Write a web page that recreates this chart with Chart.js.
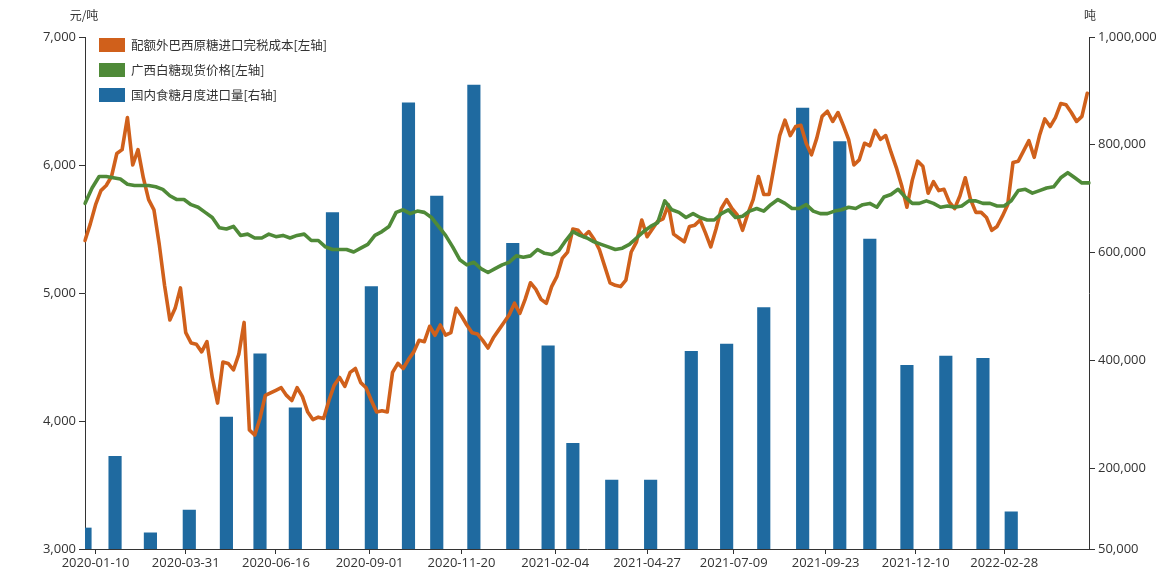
<!DOCTYPE html>
<html>
<head>
<meta charset="utf-8">
<script src="https://cdn.jsdelivr.net/npm/chart.js@4.4.0/dist/chart.umd.min.js"></script>
<style>
html,body{margin:0;padding:0;background:#fff;}
#wrap{position:relative;width:1174px;height:580px;overflow:hidden;}
canvas{display:block;}
.unit{position:absolute;font-size:12px;font-family:"Noto Sans CJK SC","Noto Sans",sans-serif;color:#333;white-space:nowrap;transform:translateX(-50%);line-height:16px;}
#legend{position:absolute;font-size:12.5px;font-family:"Noto Sans CJK SC","Noto Sans",sans-serif;color:#333;}
.li{display:flex;align-items:center;height:25px;white-space:nowrap;}
.sw{width:26px;height:14px;margin-right:6px;flex:none;}
</style>
</head>
<body>
<div id="wrap">
  <canvas id="c" width="1174" height="580" style="width:1174px;height:580px"></canvas>
  <div id="legend"></div>
  <div class="unit" id="uL"></div>
  <div class="unit" id="uR"></div>
</div>
<script>
// ---------- DATA ----------
const seriesNames = ['配额外巴西原糖进口完税成本[左轴]', '广西白糖现货价格[左轴]', '国内食糖月度进口量[右轴]'];
const leftUnit = '元/吨';
const rightUnit = '吨';

// trading calendar (weekdays minus exchange holidays)
const startDate = '2020-01-02';
const endDate = '2022-05-12';
const holidays = [
  '2020-01-24','2020-01-27','2020-01-28','2020-01-29','2020-01-30','2020-01-31',
  '2020-04-06','2020-05-01','2020-05-04','2020-05-05','2020-06-25','2020-06-26',
  '2020-10-01','2020-10-02','2020-10-05','2020-10-06','2020-10-07','2020-10-08',
  '2021-01-01','2021-02-11','2021-02-12','2021-02-15','2021-02-16','2021-02-17',
  '2021-04-05','2021-05-03','2021-05-04','2021-05-05','2021-06-14','2021-09-20','2021-09-21',
  '2021-10-01','2021-10-04','2021-10-05','2021-10-06','2021-10-07',
  '2022-01-03','2022-01-31','2022-02-01','2022-02-02','2022-02-03','2022-02-04',
  '2022-04-04','2022-04-05','2022-05-02','2022-05-03','2022-05-04'
];

const tickLabels = ['2020-01-10','2020-03-31','2020-06-16','2020-09-01','2020-11-20','2021-02-04',
  '2021-04-27','2021-07-09','2021-09-23','2021-12-10','2022-02-28'];
const leftTicks = [3000, 4000, 5000, 6000, 7000];
const rightTicks = [50000, 200000, 400000, 600000, 800000, 1000000];

// import-cost line: one reading every 3rd trading day
const costStep = 3;
const costValues = [
  5410,5540,5690,5800,5840,5910,6090,6120,6370,6000,
  6120,5900,5730,5650,5380,5060,4790,4880,5040,4690,
  4610,4600,4540,4620,4340,4140,4460,4450,4400,4520,
  4770,3930,3890,4020,4200,4220,4240,
  4260,4200,4160,4260,
  4190,4070,4010,4030,4020,4160,4280,4340,4270,4380,
  4410,4300,4260,4160,4070,4080,4070,4380,4450,4410,
  4480,4540,4630,4620,4740,4670,4750,4670,4690,4880,
  4820,4750,4690,4680,4630,4570,4650,4710,4770,4830,
  4920,4840,4950,5080,5030,4950,4920,5050,5130,5270,
  5320,5500,5490,5440,5480,5420,5340,5210,5080,5060,
  5050,5100,5320,5400,5570,5440,5500,
  5560,5580,5690,5460,
  5430,5400,5520,5530,5570,5470,5360,5500,5660,5730,
  5660,5610,5490,5620,5730,5910,5770,5770,6000,6230,
  6350,6230,6300,6310,6170,6080,6210,6380,6420,6340,
  6410,6310,6200,6000,6040,6170,6150,6270,6200,6230,
  6100,5980,5840,5670,5880,6030,5990,5780,5870,5800,
  5810,5710,5660,5760,5900,5730,5630,5630,5590,5490,
  5520,5600,5690,6020,6030,6110,
  6190,6060,6230,6360,6300,6370,6480,6470,6410,6340,6380,6560
];

// Guangxi spot price line: one reading every 4th trading day
const spotStep = 4;
const spotValues = [
  5700,5820,5910,5910,5900,5890,5850,5840,5840,5840,
  5830,5810,5760,5730,5730,5690,5670,5630,5590,5510,
  5500,5520,5450,5460,5430,5430,5460,5440,5450,5430,
  5450,5460,5410,5410,5360,5340,5340,
  5340,5320,5350,5380,
  5450,5480,5520,5630,5650,5620,5640,5630,5590,5520,
  5450,5360,5260,5220,5240,5190,5160,5190,5220,5240,
  5290,5280,5290,5340,5310,5300,5330,5410,5480,5450,
  5430,5400,5380,5360,5340,5350,5380,5430,5480,5520,
  5550,5720,5650,5630,5590,5620,5590,5570,5570,5620,
  5650,5590,5600,5640,5660,5640,5690,5730,5700,5660,
  5660,5690,5640,5620,5620,5640,5650,
  5670,5660,5690,5700,
  5670,5750,5770,5810,5750,5700,5700,5720,5700,5670,
  5680,5670,5680,5720,5720,5700,5700,5680,5680,5720,
  5800,5810,5780,5800,5820,5830,5900,5940,5900,5860,5860
];

// monthly imports (bars)
const importDates = ['2020-01-02','2020-02-04','2020-03-03','2020-04-02','2020-05-07','2020-06-03',
  '2020-07-03','2020-08-03','2020-09-02','2020-10-09','2020-11-02','2020-12-01','2020-12-31',
  '2021-01-29','2021-02-25','2021-03-29','2021-04-29','2021-06-04','2021-07-05','2021-08-03',
  '2021-09-02','2021-10-12','2021-11-04','2021-12-03','2022-01-05','2022-02-10','2022-03-04'];
const importValues = [89000,222000,80000,122000,295000,412000,
  312000,674000,537000,878000,705000,911000,617000,
  427000,246000,178000,178000,417000,430000,498000,
  868000,806000,625000,391000,408000,404000,119000];

// ---------- BUILD ----------
function buildCalendar(a, b, skip) {
  const out = [];
  const d = new Date(a + 'T00:00:00Z');
  const end = new Date(b + 'T00:00:00Z');
  while (d <= end) {
    const wd = d.getUTCDay();
    const s = d.toISOString().slice(0, 10);
    if (wd !== 0 && wd !== 6 && !skip.includes(s)) out.push(s);
    d.setUTCDate(d.getUTCDate() + 1);
  }
  return out;
}
const categories = buildCalendar(startDate, endDate, holidays);

const costData = costValues.map((v, i) => ({ x: categories[i * costStep], y: v }));
const spotData = spotValues.map((v, i) => ({ x: categories[i * spotStep], y: v }));
const importData = importDates.map((d, i) => ({ x: d, y: importValues[i] }));

const COL_COST = '#d0601b';
const COL_SPOT = '#4f8a38';
const COL_IMP = '#1f6aa0';
const AXIS = '#333';
const TICKFONT = { family: '"Open Sans", "Noto Sans", sans-serif', size: 13 };
const fmt = v => Number(v).toLocaleString('en-US');

const chart = new Chart(document.getElementById('c'), {
  data: {
    labels: categories,
    datasets: [
      { type: 'line', label: seriesNames[0], data: costData, borderColor: COL_COST, backgroundColor: COL_COST,
        borderWidth: 3.6, pointRadius: 0, tension: 0, spanGaps: true, borderJoinStyle: 'round', borderCapStyle: 'round',
        yAxisID: 'y', order: 1 },
      { type: 'line', label: seriesNames[1], data: spotData, borderColor: COL_SPOT, backgroundColor: COL_SPOT,
        borderWidth: 3.6, pointRadius: 0, tension: 0, spanGaps: true, borderJoinStyle: 'round', borderCapStyle: 'round',
        yAxisID: 'y', order: 0 },
      { type: 'bar', label: seriesNames[2], data: importData, backgroundColor: COL_IMP,
        barThickness: 12.5, yAxisID: 'y1', order: 2 }
    ]
  },
  options: {
    responsive: false,
    animation: false,
    devicePixelRatio: 1,
    layout: { padding: { top: 37, left: 0, right: 0, bottom: 0 } },
    plugins: { legend: { display: false }, tooltip: { enabled: false } },
    scales: {
      x: {
        type: 'category', offset: false,
        grid: { display: true, offset: false, drawOnChartArea: false, drawTicks: true, tickLength: 5, color: AXIS, lineWidth: 1 },
        border: { display: true, color: AXIS, width: 1 },
        ticks: { autoSkip: false, maxRotation: 0, minRotation: 0, padding: 1, color: AXIS, font: TICKFONT,
          callback: (v) => categories[v] },
        afterBuildTicks: s => { s.ticks = s.ticks.filter(t => tickLabels.includes(categories[t.value])); },
        afterFit: s => { s.height = 31; }
      },
      y: {
        position: 'left', min: leftTicks[0], max: leftTicks[leftTicks.length - 1],
        grid: { display: true, drawOnChartArea: false, drawTicks: true, tickLength: 6, color: AXIS },
        border: { display: true, color: AXIS, width: 1 },
        ticks: { padding: 3, color: AXIS, font: TICKFONT, callback: v => fmt(v) },
        afterBuildTicks: s => { s.ticks = leftTicks.map(v => ({ value: v })); },
        afterFit: s => { s.width = 85; }
      },
      y1: {
        position: 'right', min: rightTicks[0], max: rightTicks[rightTicks.length - 1],
        grid: { display: true, drawOnChartArea: false, drawTicks: true, tickLength: 6, color: AXIS },
        border: { display: true, color: AXIS, width: 1 },
        ticks: { padding: 3, color: AXIS, font: TICKFONT, callback: v => fmt(v) },
        afterBuildTicks: s => { s.ticks = rightTicks.map(v => ({ value: v })); },
        afterFit: s => { s.width = 85; }
      }
    }
  }
});

// ---------- HTML legend & unit labels ----------
const area = chart.chartArea;
const lg = document.getElementById('legend');
lg.style.left = (area.left + 14) + 'px';
lg.style.top = (area.top - 5) + 'px';
chart.data.datasets.forEach(ds => {
  const row = document.createElement('div');
  row.className = 'li';
  const sw = document.createElement('span');
  sw.className = 'sw';
  sw.style.background = ds.type === 'bar' ? ds.backgroundColor : ds.borderColor;
  const tx = document.createElement('span');
  tx.textContent = ds.label;
  row.appendChild(sw); row.appendChild(tx);
  lg.appendChild(row);
});
const uL = document.getElementById('uL');
uL.textContent = leftUnit;
uL.style.left = (chart.scales.y.right - 1) + 'px';
uL.style.top = '7px';
const uR = document.getElementById('uR');
uR.textContent = rightUnit;
uR.style.left = (chart.scales.y1.left + 1) + 'px';
uR.style.top = '7px';
</script>
</body>
</html>
